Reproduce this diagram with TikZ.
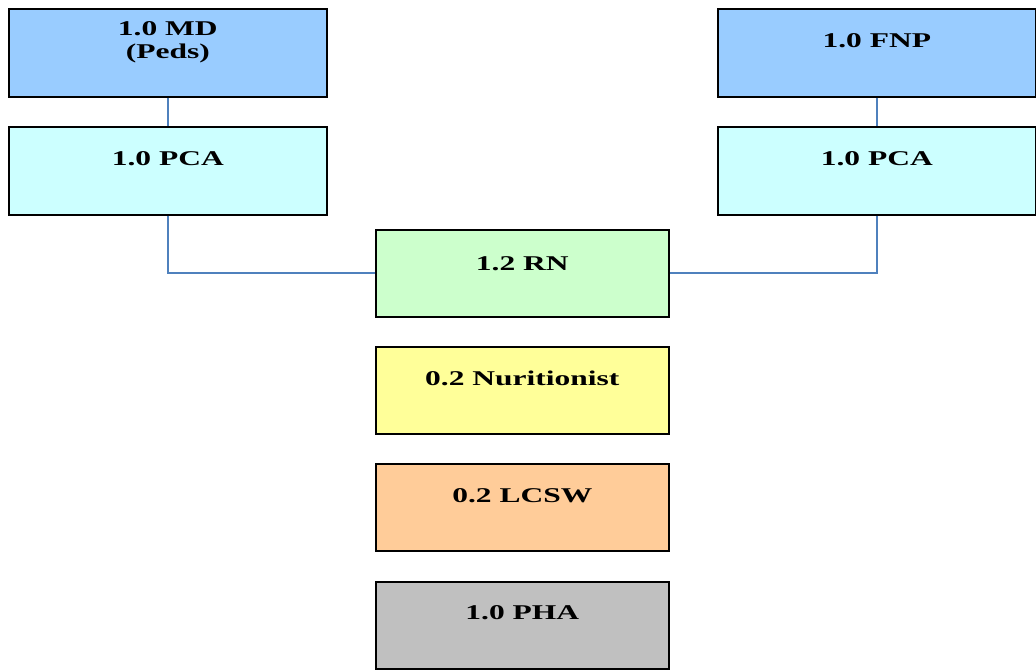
\documentclass[tikz,border=0pt]{standalone}
\usepackage{fontspec}
\setmainfont{Liberation Serif}
\usepackage{graphicx}
\definecolor{mdblue}{HTML}{99CCFF}
\definecolor{pcacyan}{HTML}{CCFFFF}
\definecolor{rngreen}{HTML}{CCFFCC}
\definecolor{nutyellow}{HTML}{FFFF99}
\definecolor{lcswpeach}{HTML}{FFCC99}
\definecolor{phagray}{HTML}{C0C0C0}
\definecolor{linkblue}{HTML}{4F81BD}
\newcommand{\wide}[1]{\scalebox{1.5}[1]{#1}}
\tikzset{
  x=1pt, y=-1pt,
  box/.style={draw=black, line width=1.7pt, rectangle, inner sep=0pt, anchor=north west},
  bigbox/.style={box, minimum width=318pt, minimum height=88pt},
  midbox/.style={box, minimum width=293pt, minimum height=87pt},
  lbl/.style={anchor=base, inner sep=0pt, font=\fontsize{21}{23}\selectfont\bfseries, align=center},
  link/.style={draw=linkblue, line width=1.8pt}
}
\begin{document}
\begin{tikzpicture}
\useasboundingbox (0,0) rectangle (1036,670);
% top-left column
\node[bigbox, fill=mdblue] (md) at (8,8) {};
\node[bigbox, fill=pcacyan] (pcal) at (8,126) {};
% top-right column
\node[bigbox, fill=mdblue] (fnp) at (717,8) {};
\node[bigbox, fill=pcacyan] (pcar) at (717,126) {};
% centre stack
\node[midbox, fill=rngreen] (rn) at (375,229) {};
\node[midbox, fill=nutyellow] (nut) at (375,346) {};
\node[midbox, fill=lcswpeach] (lcsw) at (375,463) {};
\node[midbox, fill=phagray] (pha) at (375,581) {};
% labels
\node[lbl] (mdt) at ([yshift=-50pt]md.north) {\wide{1.0 MD}\\[0pt]\wide{(Peds)}};
\node[lbl] (pcalt) at ([yshift=-39pt]pcal.north) {\wide{1.0 PCA}};
\node[lbl] (fnpt) at ([yshift=-39pt]fnp.north) {\wide{1.0 FNP}};
\node[lbl] (pcart) at ([yshift=-39pt]pcar.north) {\wide{1.0 PCA}};
\node[lbl] (rnt) at ([yshift=-41pt]rn.north) {\wide{1.2 RN}};
\node[lbl] (nutt) at ([yshift=-39pt]nut.north) {\wide{0.2 Nuritionist}};
\node[lbl] (lcswt) at ([yshift=-39pt]lcsw.north) {\wide{0.2 LCSW}};
\node[lbl] (phat) at ([yshift=-38pt]pha.north) {\wide{1.0 PHA}};
% connectors
\draw[link] (md.south) -- (pcal.north);
\draw[link] (fnp.south) -- (pcar.north);
\draw[link] (pcal.south) |- (rn.west);
\draw[link] (pcar.south) |- (rn.east);
\end{tikzpicture}
\end{document}
